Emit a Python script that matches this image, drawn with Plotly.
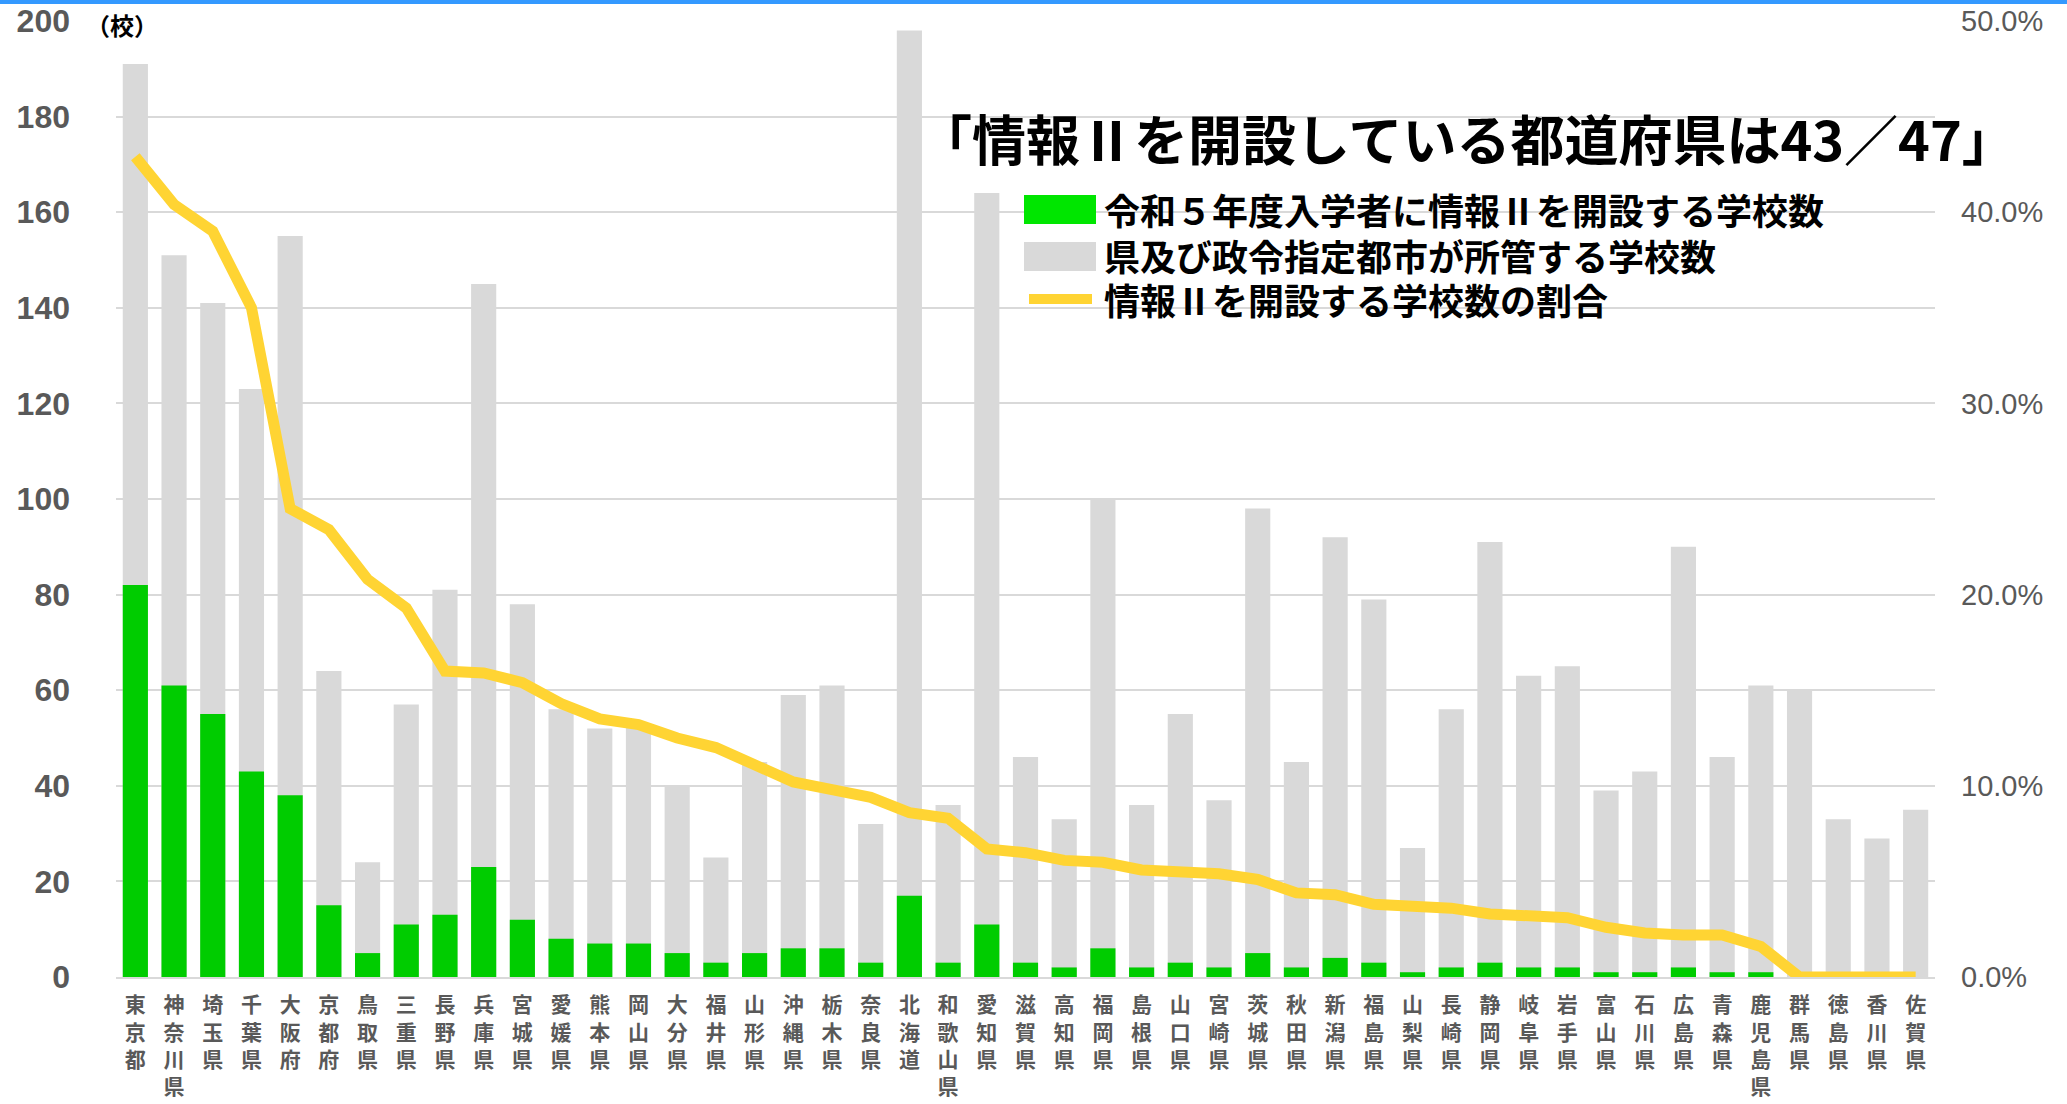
import plotly.graph_objects as go

prefectures = ["東京都", "神奈川県", "埼玉県", "千葉県", "大阪府", "京都府", "鳥取県", "三重県",
               "長野県", "兵庫県", "宮城県", "愛媛県", "熊本県", "岡山県", "大分県", "福井県",
               "山形県", "沖縄県", "栃木県", "奈良県", "北海道", "和歌山県", "愛知県", "滋賀県",
               "高知県", "福岡県", "島根県", "山口県", "宮崎県", "茨城県", "秋田県", "新潟県",
               "福島県", "山梨県", "長崎県", "静岡県", "岐阜県", "岩手県", "富山県", "石川県",
               "広島県", "青森県", "鹿児島県", "群馬県", "徳島県", "香川県", "佐賀県"]

schools_info2 = [82, 61, 55, 43, 38, 15, 5, 11, 13, 23, 12, 8, 7, 7, 5, 3,
                 5, 6, 6, 3, 17, 3, 11, 3, 2, 6, 2, 3, 2, 5, 2, 4,
                 3, 1, 2, 3, 2, 2, 1, 1, 2, 1, 1, 0, 0, 0, 0]

schools_total = [191, 151, 141, 123, 155, 64, 24, 57, 81, 145, 78, 56, 52, 53, 40, 25,
                 45, 59, 61, 32, 198, 36, 164, 46, 33, 100, 36, 55, 37, 98, 45, 92,
                 79, 27, 56, 91, 63, 65, 39, 43, 90, 46, 61, 60, 33, 29, 35]

ratio = [0.429, 0.404, 0.390, 0.350, 0.245, 0.234, 0.208, 0.193, 0.160, 0.159, 0.154, 0.143,
         0.135, 0.132, 0.125, 0.120, 0.111, 0.102, 0.098, 0.094, 0.086, 0.083, 0.067, 0.065,
         0.061, 0.060, 0.056, 0.055, 0.054, 0.051, 0.044, 0.043, 0.038, 0.037, 0.036, 0.033,
         0.032, 0.031, 0.026, 0.023, 0.022, 0.022, 0.016, 0.0, 0.0, 0.0, 0.0]

legend_labels = ["令和５年度入学者に情報Ⅱを開設する学校数",
                 "県及び政令指定都市が所管する学校数",
                 "情報Ⅱを開設する学校数の割合"]
title_text = "「情報Ⅱを開設している都道府県は43／47」"
unit_text = "（校）"

GREEN = "#00CC00"
LEGEND_GREEN = "#00E600"
GRAY = "#D9D9D9"
YELLOW = "#FFD433"
AXIS_TXT = "#595959"
CJK = "Noto Sans CJK JP"

W, H = 2067, 1104
L, R, T, B = 116, 2067 - 1935, 21, 1104 - 977
PW, PH = W - L - R, H - T - B


def px(x):
    return (x - L) / PW


def py(y):
    return (H - B - y) / PH


tick_text = ["<br>".join(list(p)) for p in prefectures]

fig = go.Figure()
fig.add_trace(go.Bar(x=prefectures, y=schools_total, name=legend_labels[1],
                     marker=dict(color=GRAY, line=dict(width=0)), showlegend=False))
fig.add_trace(go.Bar(x=prefectures, y=schools_info2, name=legend_labels[0],
                     marker=dict(color=GREEN, line=dict(width=0)), showlegend=False))
fig.add_trace(go.Scatter(x=prefectures, y=ratio, name=legend_labels[2], yaxis="y2",
                         mode="lines", line=dict(color=YELLOW, width=11),
                         showlegend=False))

shapes = [
    # top blue page line
    dict(type="rect", xref="paper", yref="paper", x0=px(0), x1=px(W), y0=py(0), y1=py(4),
         fillcolor="#3399FF", line=dict(width=0), layer="above"),
    # legend symbols
    dict(type="rect", xref="paper", yref="paper", x0=px(1024), x1=px(1096), y0=py(224), y1=py(195),
         fillcolor=LEGEND_GREEN, line=dict(width=0), layer="above"),
    dict(type="rect", xref="paper", yref="paper", x0=px(1024), x1=px(1096), y0=py(271), y1=py(242),
         fillcolor=GRAY, line=dict(width=0), layer="above"),
    dict(type="line", xref="paper", yref="paper", x0=px(1029), x1=px(1092), y0=py(299), y1=py(299),
         line=dict(color=YELLOW, width=10), layer="above"),
]

annotations = [
    dict(text=title_text, xref="paper", yref="paper", x=px(916), y=py(137),
         xanchor="left", yanchor="middle", showarrow=False, height=58,
         font=dict(family=CJK, size=54, color="#000000", weight="bold")),
    dict(text=unit_text, xref="paper", yref="paper", x=px(84), y=py(25),
         xanchor="left", yanchor="middle", showarrow=False,
         font=dict(family=CJK, size=24, color="#000000", weight="bold")),
]
for lab, yy in zip(legend_labels, [209, 255, 299]):
    annotations.append(dict(text=lab, xref="paper", yref="paper", x=px(1102), y=py(yy),
                            xanchor="left", yanchor="middle", showarrow=False, height=40,
                            font=dict(family=CJK, size=36, color="#000000", weight="bold")))

fig.update_layout(
    width=W, height=H,
    margin=dict(l=L, r=R, t=T, b=B, autoexpand=False),
    paper_bgcolor="white", plot_bgcolor="white",
    barmode="overlay", bargap=0.35,
    showlegend=False,
    xaxis=dict(type="category", tickmode="array", tickvals=prefectures, ticktext=tick_text,
               tickfont=dict(family=CJK, size=21, color=AXIS_TXT, weight="bold"),
               tickangle=0, showgrid=False, showline=True, linecolor=GRAY, linewidth=2,
               ticks="", ticklabelstandoff=8, range=[-0.5, len(prefectures) - 0.5]),
    yaxis=dict(range=[0, 200], dtick=20, showgrid=True, gridcolor=GRAY, gridwidth=2,
               zeroline=False, ticks="", ticklabelstandoff=45,
               tickfont=dict(family="Liberation Sans", size=32, color=AXIS_TXT, weight="bold")),
    yaxis2=dict(range=[0, 0.5], dtick=0.1, tickformat=".1%", overlaying="y", side="right",
                showgrid=False, zeroline=False, ticks="", ticklabelstandoff=25,
                tickfont=dict(family="Liberation Sans", size=29, color=AXIS_TXT)),
    shapes=shapes,
    annotations=annotations,
)

fig.write_html("out.html", config={"displayModeBar": False},
               post_script="document.body.style.margin='0';")
